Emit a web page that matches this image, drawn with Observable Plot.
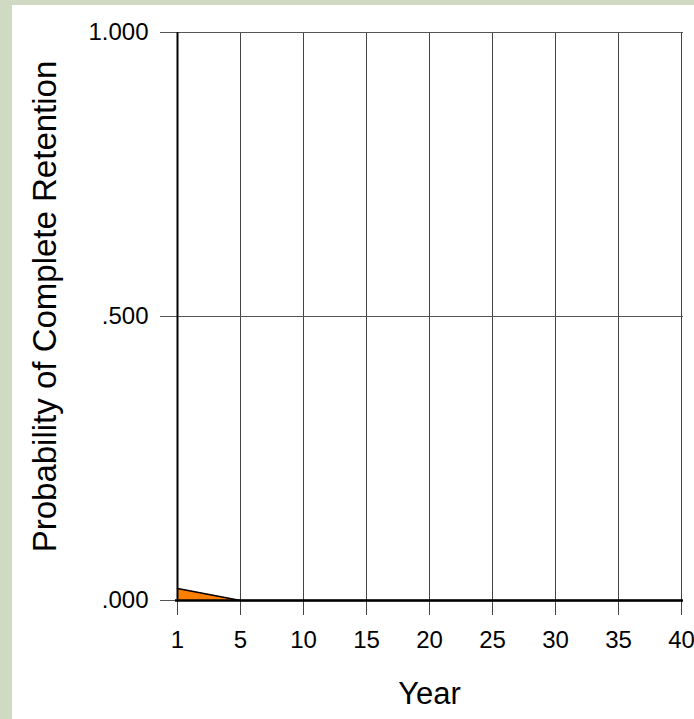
<!DOCTYPE html>
<html><head><meta charset="utf-8">
<script src="https://cdn.jsdelivr.net/npm/d3@7"></script>
<script src="https://cdn.jsdelivr.net/npm/@observablehq/plot@0.6"></script>
<style>
html,body{margin:0;padding:0;background:#d0d9c1;width:694px;height:719px;overflow:hidden}
#chart{position:absolute;left:12px;top:5px;width:682px;height:714px;background:#fff}
svg{display:block}
</style></head><body><div id="chart"></div>
<script>
const years = [1, 5, 10, 15, 20, 25, 30, 35, 40];
const retention = [0.021, 0, 0, 0, 0, 0, 0, 0, 0];
const yTicks = [0, 0.5, 1];
const yTickLabels = [".000", ".500", "1.000"];
const xLabel = "Year";
const yLabel = "Probability of Complete Retention";

const data = years.map((year, i) => ({year, p: retention[i]}));
const font = "'Liberation Sans', Arial, sans-serif";

const chart = Plot.plot({
  width: 682, height: 714,
  marginLeft: 163, marginRight: 11, marginTop: 27, marginBottom: 119,
  style: {fontFamily: font, fontSize: "24px", color: "#000", background: "#fff", overflow: "visible"},
  x: {type: "point", domain: years, padding: 0},
  y: {domain: [0, 1]},
  marks: [
    Plot.ruleX(years, {x: d => d, y1: 0, y2: 1, stroke: "#444", strokeWidth: 1}),
    Plot.ruleY([0.5, 1], {stroke: "#555", strokeWidth: 1}),
    Plot.axisX({ticks: years, tickSize: 15, tickPadding: 15, tickFormat: d => String(d), stroke: "#444", label: null, fontSize: 24}),
    Plot.axisY({ticks: yTicks, tickSize: 15, tickPadding: 12, tickFormat: d => yTickLabels[yTicks.indexOf(d)], stroke: "#555", label: null, fontSize: 24}),
    Plot.areaY(data, {x: "year", y: "p", fill: "#ff7f00"}),
    Plot.lineY(data, {x: "year", y: "p", stroke: "#000", strokeWidth: 1.5}),
    Plot.ruleY([0], {stroke: "#000", strokeWidth: 2.5}),
    Plot.ruleX([years[0]], {y1: 0, y2: 1, stroke: "#000", strokeWidth: 2}),
    Plot.text([xLabel], {text: d => d, frameAnchor: "bottom", lineAnchor: "bottom", dy: 103, fontSize: 31}),
    Plot.text([yLabel], {text: d => d, frameAnchor: "left", textAnchor: "middle", lineAnchor: "bottom", rotate: -90, dx: -120, dy: -10, fontSize: 33})
  ]
});
document.getElementById("chart").appendChild(chart);
</script>
</body></html>
